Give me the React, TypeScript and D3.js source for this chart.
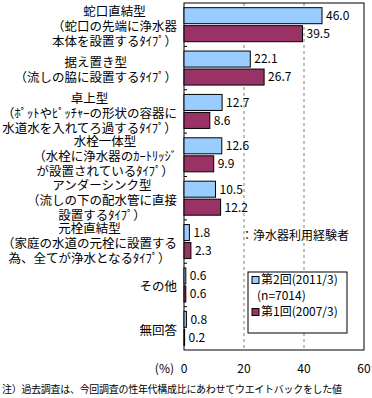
import React, { useEffect, useRef } from "react";
import * as d3 from "d3";

// categories (label lines) and values
const categories = [
  ["蛇口直結型", "（蛇口の先端に浄水器", "本体を設置するﾀｲﾌﾟ）"],
  ["据え置き型", "（流しの脇に設置するﾀｲﾌﾟ）"],
  ["卓上型", "（ﾎﾟｯﾄやﾋﾟｯﾁｬｰの形状の容器に", "水道水を入れてろ過するﾀｲﾌﾟ）"],
  ["水栓一体型", "（水栓に浄水器のｶｰﾄﾘｯｼﾞ", "が設置されているﾀｲﾌﾟ）"],
  ["アンダーシンク型", "（流しの下の配水管に直接", "設置するﾀｲﾌﾟ）"],
  ["元栓直結型", "（家庭の水道の元栓に設置する", "為、全てが浄水となるﾀｲﾌﾟ）"],
  ["その他"],
  ["無回答"],
];
const round2 = [46.0, 22.1, 12.7, 12.6, 10.5, 1.8, 0.6, 0.8];
const round1 = [39.5, 26.7, 8.6, 9.9, 12.2, 2.3, 0.6, 0.2];
const xTicks = [0, 20, 40, 60];
const seriesNames = ["第2回(2011/3)", "第1回(2007/3)"];
const seriesColors = ["#99CCFF", "#993366"];

const W = 372;
const H = 398;
const FONT = "'Noto Sans CJK JP', sans-serif";

const App = () => {
  const svgRef = useRef(null);

  useEffect(() => {
    const svg = d3.select(svgRef.current);
    svg.selectAll("*").remove();

    const left = 184, right = 364, top = 3, bottom = 350;
    const ids = categories.map((_, i) => String(i));

    const x = d3.scaleLinear().domain([0, 60]).range([left, right]);
    const y = d3.scaleBand().domain(ids).range([top, bottom]);
    const ySub = d3
      .scaleBand()
      .domain(["s2", "s1"])
      .range([0, y.bandwidth()])
      .paddingInner(0.11)
      .paddingOuter(0.26);

    // gridlines
    svg
      .append("g")
      .selectAll("line")
      .data(xTicks.slice(1, -1))
      .join("line")
      .attr("x1", (d) => x(d))
      .attr("x2", (d) => x(d))
      .attr("y1", top)
      .attr("y2", bottom)
      .attr("stroke", "#808080")
      .attr("stroke-dasharray", "3,3");

    // frame
    svg
      .append("rect")
      .attr("x", left)
      .attr("y", top)
      .attr("width", right - left)
      .attr("height", bottom - top)
      .attr("fill", "none")
      .attr("stroke", "#000");

    // left axis ticks at band boundaries
    svg
      .append("g")
      .selectAll("line")
      .data(ids.slice(1))
      .join("line")
      .attr("x1", left)
      .attr("x2", left + 3)
      .attr("y1", (d) => y(d))
      .attr("y2", (d) => y(d))
      .attr("stroke", "#000");

    // bars
    const series = [round2, round1];
    ["s2", "s1"].forEach((key, si) => {
      const g = svg.append("g");
      g.selectAll("rect")
        .data(series[si])
        .join("rect")
        .attr("x", left)
        .attr("y", (_, i) => y(ids[i]) + ySub(key))
        .attr("width", (d) => x(d) - left)
        .attr("height", ySub.bandwidth())
        .attr("fill", seriesColors[si])
        .attr("stroke", "#000");
      g.selectAll("text")
        .data(series[si])
        .join("text")
        .attr("x", (d) => x(d) + 4)
        .attr("y", (_, i) => y(ids[i]) + ySub(key) + ySub.bandwidth() / 2)
        .attr("dy", "0.36em")
        .attr("font-size", 12)
        .attr("font-family", FONT)
        .text((d) => d.toFixed(1));
    });

    // category labels: block right-aligned, lines centred in block
    const labelRight = 177;
    const lineH = 15;
    categories.forEach((lines, i) => {
      const g = svg.append("g");
      const cy = y(ids[i]) + y.bandwidth() / 2 + 2;
      const texts = g
        .selectAll("text")
        .data(lines)
        .join("text")
        .attr("font-size", 12.5)
        .attr("font-family", FONT)
        .attr("text-anchor", "middle")
        .attr("dy", "0.36em")
        .attr("y", (_, j) => cy + (j - (lines.length - 1) / 2) * lineH)
        .text((d) => d);
      const widths = texts.nodes().map((n) => n.getComputedTextLength());
      const maxW = d3.max(widths);
      texts.attr("x", labelRight - maxW / 2);
    });

    // x tick labels
    svg
      .append("g")
      .selectAll("text")
      .data(xTicks)
      .join("text")
      .attr("x", (d) => x(d))
      .attr("y", 369)
      .attr("dy", "0.36em")
      .attr("text-anchor", "middle")
      .attr("font-size", 12)
      .attr("font-family", FONT)
      .text((d) => d);

    svg
      .append("text")
      .attr("x", 174)
      .attr("y", 369)
      .attr("dy", "0.36em")
      .attr("text-anchor", "end")
      .attr("font-size", 12)
      .attr("font-family", FONT)
      .text("(%)");

    // annotation
    svg
      .append("text")
      .attr("x", 241)
      .attr("y", 236)
      .attr("dy", "0.36em")
      .attr("font-size", 12)
      .attr("font-family", FONT)
      .text("：浄水器利用経験者");

    // legend
    const lg = svg.append("g");
    lg.append("rect")
      .attr("x", 248)
      .attr("y", 272)
      .attr("width", 99)
      .attr("height", 61)
      .attr("fill", "#fff")
      .attr("stroke", "#000");
    const legendRows = [
      { y: 280, color: seriesColors[0], text: seriesNames[0] },
      { y: 312, color: seriesColors[1], text: seriesNames[1] },
    ];
    legendRows.forEach((r) => {
      lg.append("rect")
        .attr("x", 252)
        .attr("y", r.y - 3.5)
        .attr("width", 7)
        .attr("height", 7)
        .attr("fill", r.color)
        .attr("stroke", "#000");
      lg.append("text")
        .attr("x", 261)
        .attr("y", r.y)
        .attr("dy", "0.36em")
        .attr("font-size", 12)
        .attr("font-family", FONT)
        .text(r.text);
    });
    lg.append("text")
      .attr("x", 257)
      .attr("y", 296)
      .attr("dy", "0.36em")
      .attr("font-size", 12)
      .attr("font-family", FONT)
      .text("(n=7014)");

    // footnote
    svg
      .append("text")
      .attr("x", 2)
      .attr("y", 389)
      .attr("dy", "0.36em")
      .attr("font-size", 10)
      .attr("font-family", FONT)
      .attr("textLength", 340)
      .attr("lengthAdjust", "spacing")
      .text("注）過去調査は、今回調査の性年代構成比にあわせてウエイトバックをした値");
  }, []);

  return (
    <svg
      ref={svgRef}
      width={W}
      height={H}
      style={{ position: "absolute", left: 0, top: 0, background: "#fff" }}
    ></svg>
  );
};

export default App;
